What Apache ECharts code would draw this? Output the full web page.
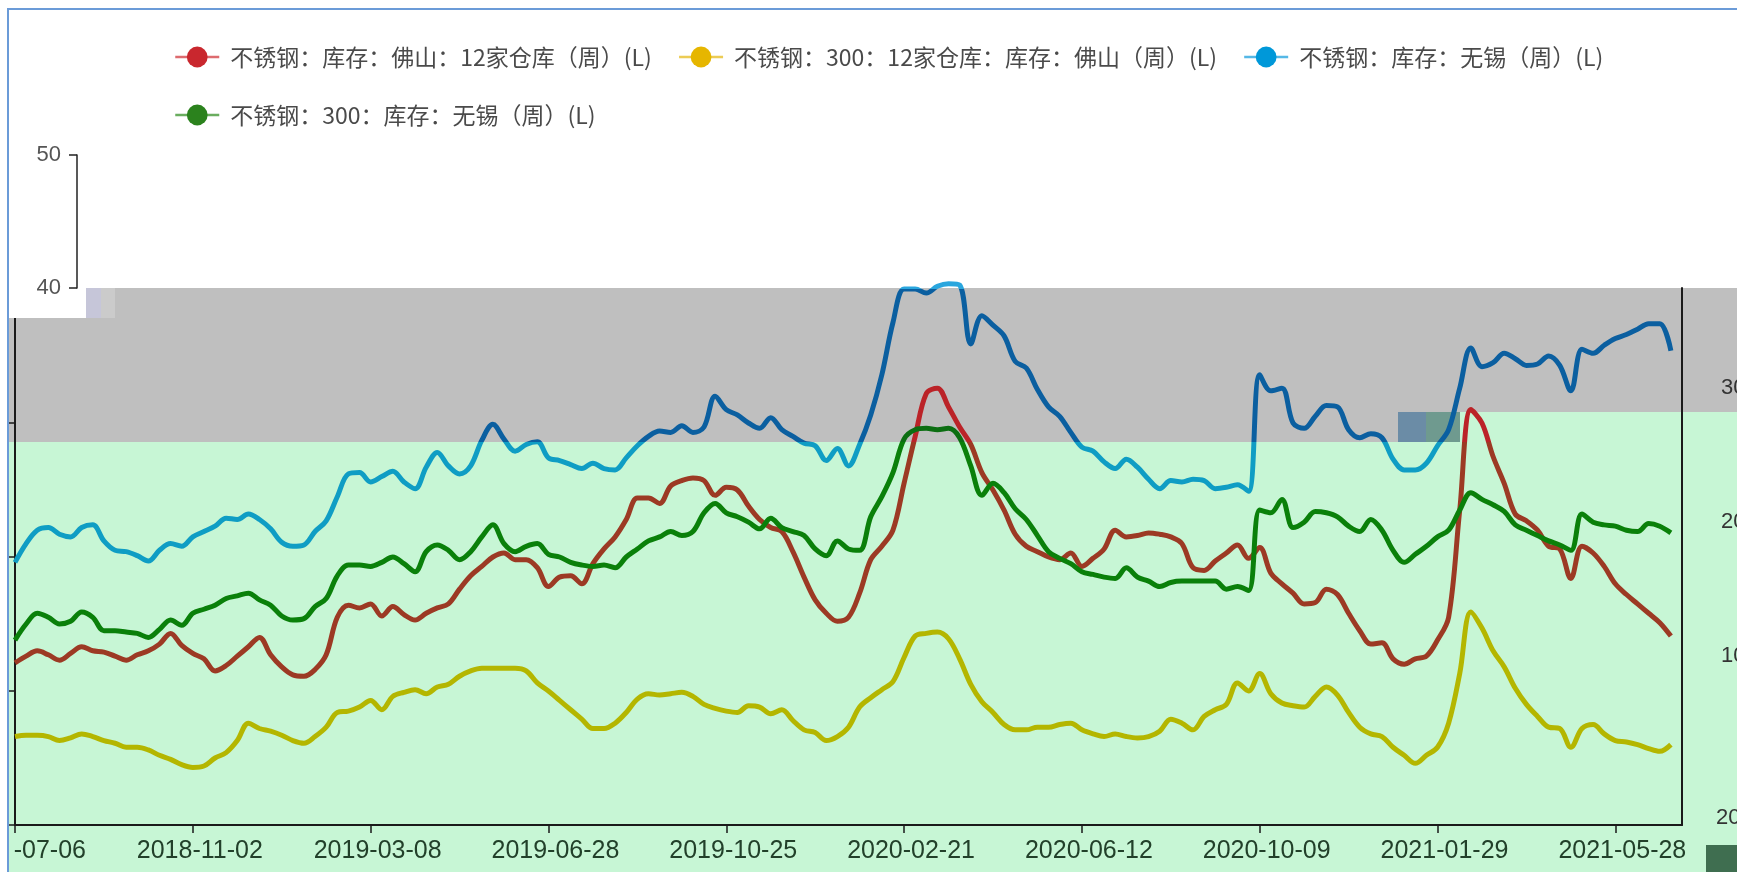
<!DOCTYPE html>
<html>
<head>
<meta charset="utf-8">
<script src="https://cdn.jsdelivr.net/npm/echarts@6.0.0/dist/echarts.min.js"></script>
<style>
html,body{margin:0;padding:0;background:#fff;}
#chart{width:1737px;height:872px;}
</style>
</head>
<body>
<div id="chart"></div>
<script>
const dates = [
'2018-07-06','2018-07-13','2018-07-20','2018-07-27','2018-08-03','2018-08-10','2018-08-17','2018-08-24','2018-08-31','2018-09-07','2018-09-14','2018-09-21','2018-09-28','2018-10-12','2018-10-19','2018-10-26',
'2018-11-02','2018-11-09','2018-11-16','2018-11-23','2018-11-30','2018-12-07','2018-12-14','2018-12-21','2018-12-28','2019-01-11','2019-01-18','2019-01-25','2019-02-01','2019-02-15','2019-02-22','2019-03-01',
'2019-03-08','2019-03-15','2019-03-22','2019-03-29','2019-04-05','2019-04-12','2019-04-19','2019-04-26','2019-05-03','2019-05-10','2019-05-17','2019-05-24','2019-05-31','2019-06-07','2019-06-14','2019-06-21',
'2019-06-28','2019-07-05','2019-07-12','2019-07-19','2019-07-26','2019-08-02','2019-08-09','2019-08-16','2019-08-23','2019-08-30','2019-09-06','2019-09-13','2019-09-20','2019-09-27','2019-10-11','2019-10-18',
'2019-10-25','2019-11-01','2019-11-08','2019-11-15','2019-11-22','2019-11-29','2019-12-06','2019-12-13','2019-12-20','2019-12-27','2020-01-03','2020-01-10','2020-01-17','2020-01-24','2020-02-07','2020-02-14',
'2020-02-21','2020-02-28','2020-03-06','2020-03-13','2020-03-20','2020-03-27','2020-04-03','2020-04-10','2020-04-17','2020-04-24','2020-05-01','2020-05-08','2020-05-15','2020-05-22','2020-05-29','2020-06-05',
'2020-06-12','2020-06-19','2020-06-26','2020-07-03','2020-07-10','2020-07-17','2020-07-24','2020-07-31','2020-08-07','2020-08-14','2020-08-21','2020-08-28','2020-09-04','2020-09-11','2020-09-18','2020-09-25',
'2020-10-09','2020-10-16','2020-10-23','2020-10-30','2020-11-06','2020-11-13','2020-11-20','2020-11-27','2020-12-04','2020-12-11','2020-12-18','2020-12-25','2021-01-01','2021-01-08','2021-01-15','2021-01-22',
'2021-01-29','2021-02-05','2021-02-19','2021-02-26','2021-03-05','2021-03-12','2021-03-19','2021-03-26','2021-04-02','2021-04-09','2021-04-16','2021-04-23','2021-04-30','2021-05-07','2021-05-14','2021-05-21',
'2021-05-28','2021-06-04','2021-06-11','2021-06-18','2021-06-25','2021-07-02','2021-07-09'
];

const seriesNames = [
  '不锈钢：库存：佛山：12家仓库（周）(L)',
  '不锈钢：300：12家仓库：库存：佛山（周）(L)',
  '不锈钢：库存：无锡（周）(L)',
  '不锈钢：300：库存：无锡（周）(L)'
];

const foshanTotal = [
12.1,12.6,13.0,12.7,12.3,12.8,13.3,13.0,12.9,12.6,
12.3,12.7,13.0,13.5,14.3,13.4,12.8,12.4,11.5,11.9,
12.6,13.3,14.0,12.7,11.8,11.2,11.1,11.6,12.7,15.5,
16.4,16.2,16.5,15.6,16.3,15.7,15.3,15.8,16.2,16.5,
17.6,18.6,19.3,20.0,20.3,19.8,19.8,19.2,17.8,18.5,
18.6,18.0,19.5,20.6,21.5,22.8,24.4,24.4,24.0,25.3,
25.7,25.9,25.7,24.6,25.2,25.0,23.8,22.8,22.2,21.9,
20.4,18.5,16.8,15.8,15.2,15.5,17.3,19.8,20.8,22.0,
25.5,29.0,32.2,32.6,31.2,29.7,28.4,26.3,25.0,23.5,
21.7,20.8,20.4,20.0,19.8,20.3,19.3,19.9,20.6,22.0,
21.5,21.6,21.8,21.7,21.5,21.0,19.2,19.0,19.7,20.3,
20.9,19.9,20.7,18.8,18.0,17.3,16.5,16.6,17.6,17.2,
15.8,14.5,13.5,13.6,12.4,12.0,12.4,12.6,13.8,15.5,
23.5,31.0,30.0,27.5,25.5,23.2,22.7,22.0,20.8,20.6,
18.4,20.8,20.3,19.3,18.0,17.2,16.5,15.8,15.1,14.1
];

const foshan300 = [
6.6,6.7,6.7,6.6,6.3,6.5,6.8,6.6,6.3,6.1,
5.8,5.8,5.6,5.2,4.9,4.5,4.3,4.4,5.0,5.4,
6.3,7.6,7.2,7.0,6.7,6.3,6.1,6.6,7.3,8.4,
8.5,8.8,9.3,8.6,9.6,9.9,10.1,9.8,10.3,10.5,
11.1,11.5,11.7,11.7,11.7,11.7,11.5,10.6,10.0,9.3,
8.6,7.9,7.2,7.2,7.6,8.4,9.4,9.8,9.7,9.8,
9.9,9.6,9.0,8.7,8.5,8.4,8.9,8.8,8.3,8.6,
7.8,7.1,6.9,6.3,6.6,7.3,8.8,9.5,10.1,10.7,
12.5,14.1,14.3,14.4,13.9,12.4,10.5,9.2,8.4,7.5,
7.1,7.1,7.3,7.3,7.5,7.6,7.1,6.8,6.6,6.8,
6.6,6.5,6.6,7.0,7.9,7.6,7.1,8.1,8.6,9.0,
10.6,10.0,11.3,9.8,9.1,8.9,8.8,9.6,10.3,9.7,
8.4,7.3,6.8,6.6,5.8,5.2,4.6,5.2,5.8,7.6,
11.3,15.9,14.7,13.0,11.8,10.2,9.0,8.1,7.3,7.2,
5.8,7.2,7.5,6.8,6.3,6.2,6.0,5.7,5.5,6.0
];

const wuxiTotal = [
19.6,21.0,22.0,22.2,21.7,21.5,22.2,22.4,21.2,20.5,
20.4,20.1,19.7,20.5,21.0,20.8,21.5,21.9,22.3,22.9,
22.8,23.2,22.8,22.1,21.1,20.8,20.9,21.9,22.7,24.5,
26.2,26.3,25.6,26.0,26.4,25.6,25.1,26.7,27.8,26.8,
26.2,26.8,28.7,29.9,28.8,27.9,28.4,28.6,27.4,27.2,
26.9,26.6,27.0,26.6,26.5,27.4,28.3,29.0,29.4,29.3,
29.8,29.3,29.7,32.0,31.0,30.6,30.0,29.6,30.4,29.5,
29.0,28.5,28.3,27.2,28.1,26.8,28.4,30.6,33.6,37.5,
40.0,40.0,39.7,40.2,40.4,40.3,35.9,38.0,37.3,36.5,
34.6,34.1,32.5,31.2,30.5,29.3,28.2,27.9,27.1,26.6,
27.3,26.7,25.8,25.1,25.7,25.6,25.8,25.7,25.1,25.2,
25.4,24.9,33.6,32.4,32.6,30.0,29.6,30.5,31.3,31.2,
29.5,28.9,29.2,28.9,27.3,26.5,26.5,27.0,28.3,29.5,
32.6,35.6,34.2,34.5,35.2,34.8,34.3,34.4,35.0,34.3,
32.4,35.5,35.2,35.8,36.3,36.6,37.0,37.4,37.4,35.4
];

const wuxi300 = [
13.8,15.0,15.8,15.5,15.0,15.2,15.9,15.5,14.5,14.5,
14.4,14.3,14.0,14.6,15.3,14.9,15.8,16.1,16.4,16.9,
17.1,17.3,16.8,16.4,15.6,15.3,15.4,16.3,16.9,18.6,
19.4,19.4,19.3,19.6,20.0,19.5,18.9,20.4,20.9,20.5,
19.8,20.4,21.5,22.4,21.0,20.4,20.8,21.0,20.2,20.0,
19.6,19.4,19.3,19.4,19.2,20.0,20.6,21.2,21.5,21.9,
21.6,21.9,23.3,24.0,23.3,23.0,22.6,22.1,22.9,22.2,
21.9,21.6,20.6,20.1,21.2,20.6,20.5,23.0,24.5,26.3,
28.8,29.5,29.6,29.5,29.6,28.9,26.8,24.6,25.5,24.8,
23.6,22.8,21.6,20.4,19.9,19.5,18.9,18.7,18.5,18.4,
19.2,18.5,18.2,17.8,18.1,18.2,18.2,18.2,18.2,17.6,
17.8,17.5,23.5,23.3,24.3,22.2,22.6,23.4,23.3,23.0,
22.3,21.9,22.8,22.0,20.5,19.6,20.2,20.8,21.5,22.0,
23.5,24.8,24.3,23.9,23.4,22.4,22.0,21.6,21.2,20.9,
20.5,23.2,22.6,22.4,22.3,22.0,21.9,22.5,22.3,21.8
];

const yTicksMain = {min: 0, max: 50, interval: 10};
const yTicksTop = {min: 40, max: 50, interval: 10};
const rightLabelValues = [10, 20, 30];

const legendColors = ['#c9272e', '#e6b600', '#0098d9', '#2b821d'];
const legendLineColors = ['#dd6b6f', '#eccc55', '#55b8e6', '#6aad5f'];

const chart = echarts.init(document.getElementById('chart'), null, {renderer: 'canvas'});

function rect(x, y, w, h, fill, z) {
  return {type: 'rect', silent: true, z: z, shape: {x: x, y: y, width: w, height: h}, style: {fill: fill}};
}

const option = {
  animation: false,
  backgroundColor: '#ffffff',
  legend: {
    left: 174, top: 41, right: 60, padding: 0,
    itemWidth: 44, itemHeight: 26, itemGap: 26,
    textStyle: {fontSize: 23, fontFamily: 'Noto Sans CJK SC', color: '#4a4a4a', lineHeight: 32, padding: [0, 0, 0, 6]},
    data: seriesNames.map((n, i) => ({
      name: n,
      itemStyle: {color: legendColors[i]},
      lineStyle: {color: legendLineColors[i], width: 2.5}
    }))
  },
  grid: [
    {left: 15, right: 55, top: 155, bottom: 47, outerBoundsMode: 'none', containLabel: false},
    {left: 77, width: 1, top: 155, height: 133, outerBoundsMode: 'none', containLabel: false},
    {left: 15, right: 55, top: 120, bottom: 82, outerBoundsMode: 'none', containLabel: false},
    {left: 15, right: 55, top: 288, bottom: 47, outerBoundsMode: 'none', containLabel: false}
  ],
  xAxis: [
    {
      gridIndex: 0, type: 'category', data: dates, boundaryGap: false,
      axisLine: {lineStyle: {color: '#1a1a1a', width: 2}},
      axisTick: {interval: 15, length: 8, lineStyle: {color: '#1a1a1a', width: 1.5}},
      axisLabel: {interval: 15, fontSize: 25, fontFamily: 'Liberation Sans', color: '#22402a', margin: 14, padding: [0, 0, 0, 14]},
      splitLine: {show: false}
    },
    {gridIndex: 1, type: 'value', show: false},
    {gridIndex: 2, type: 'category', data: dates, show: false},
    {gridIndex: 3, type: 'category', data: dates, show: false}
  ],
  yAxis: [
    {
      gridIndex: 0, type: 'value', min: yTicksMain.min, max: yTicksMain.max, interval: yTicksMain.interval,
      axisLine: {show: true, lineStyle: {color: '#1a1a1a', width: 2}},
      axisTick: {show: true, length: 7, lineStyle: {color: '#1a1a1a', width: 1.5}},
      axisLabel: {show: false},
      splitLine: {show: false}
    },
    {
      gridIndex: 1, type: 'value', min: yTicksTop.min, max: yTicksTop.max, interval: yTicksTop.interval, z: 5,
      axisLine: {show: true, lineStyle: {color: '#222', width: 1.5}},
      axisTick: {show: true, length: 8, lineStyle: {color: '#222', width: 1.5}},
      axisLabel: {fontSize: 22, fontFamily: 'Liberation Sans', color: '#555', margin: 16},
      splitLine: {show: false}
    },
    {
      gridIndex: 2, type: 'value', position: 'right', min: yTicksMain.min, max: yTicksMain.max, interval: yTicksMain.interval,
      axisLine: {show: false}, axisTick: {show: false}, splitLine: {show: false},
      axisLabel: {margin: 39, fontSize: 22, fontFamily: 'Liberation Sans', color: '#333',
        formatter: v => rightLabelValues.indexOf(v) >= 0 ? String(v) : ''}
    },
    {
      gridIndex: 3, type: 'value', position: 'right', min: 0, max: 1,
      axisLine: {show: true, lineStyle: {color: '#1a1a1a', width: 2}},
      axisTick: {show: false}, axisLabel: {show: false}, splitLine: {show: false}
    }
  ],
  visualMap: [
    {show: false, type: 'piecewise', seriesIndex: 0, dimension: 1,
      pieces: [{gt: 28.6, lte: 60, color: '#bb2328'}, {gte: -10, lte: 28.6, color: '#9c3a24'}]},
    {show: false, type: 'piecewise', seriesIndex: 2, dimension: 1,
      pieces: [{gt: 40, lte: 60, color: '#2aa6de'}, {gt: 28.6, lte: 40, color: '#0b5fa0'}, {gte: -10, lte: 28.6, color: '#0f9dc4'}]},
    {show: false, type: 'piecewise', seriesIndex: 3, dimension: 1,
      pieces: [{gt: 28.6, lte: 60, color: '#0c6e12'}, {gte: -10, lte: 28.6, color: '#0a800a'}]}
  ],
  series: [
    {name: seriesNames[0], type: 'line', xAxisIndex: 0, yAxisIndex: 0, data: foshanTotal, smooth: 0.35, symbol: 'circle', showSymbol: false,
      lineStyle: {width: 5}},
    {name: seriesNames[1], type: 'line', xAxisIndex: 0, yAxisIndex: 0, data: foshan300, smooth: 0.35, symbol: 'circle', showSymbol: false,
      itemStyle: {color: '#b4b600'}, lineStyle: {width: 5, color: '#b4b600'}},
    {name: seriesNames[2], type: 'line', xAxisIndex: 0, yAxisIndex: 0, data: wuxiTotal, smooth: 0.35, symbol: 'circle', showSymbol: false,
      lineStyle: {width: 5}},
    {name: seriesNames[3], type: 'line', xAxisIndex: 0, yAxisIndex: 0, data: wuxi300, smooth: 0.35, symbol: 'circle', showSymbol: false,
      lineStyle: {width: 5}}
  ],
  graphic: [
    rect(8, 442, 1729, 430, '#c7f6d5', -10),
    rect(1460, 412, 277, 30, '#c7f6d5', -10),
    rect(8, 318, 78, 124, '#bfbfbf', -10),
    rect(86, 288, 1312, 154, '#bfbfbf', -10),
    rect(1398, 288, 339, 124, '#bfbfbf', -10),
    rect(86, 288, 15, 30, '#c6c6d9', -9),
    rect(101, 288, 14, 30, '#cbcbcb', -9),
    rect(0, 150, 86, 168, '#ffffff', 1),
    rect(1398, 412, 28, 30, '#6b8ca6', 3),
    rect(1426, 412, 34, 30, '#6f9a8f', 3),
    rect(9, 832, 4, 40, '#c7f6d5', 19),
    rect(0, 0, 8, 872, '#ffffff', 20),
    rect(0, 0, 1737, 8, '#ffffff', 20),
    rect(7, 8, 2, 864, '#6b9bd8', 21),
    rect(7, 8, 1730, 2, '#6b9bd8', 21),
    rect(1706, 845, 31, 27, '#3f6e50', 4),
    {type: 'text', silent: true, z: 5, x: 1716, y: 818,
      style: {text: '20', font: '22px "Liberation Sans"', fill: '#333', verticalAlign: 'middle'}}
  ]
};
chart.setOption(option);
</script>
</body>
</html>
